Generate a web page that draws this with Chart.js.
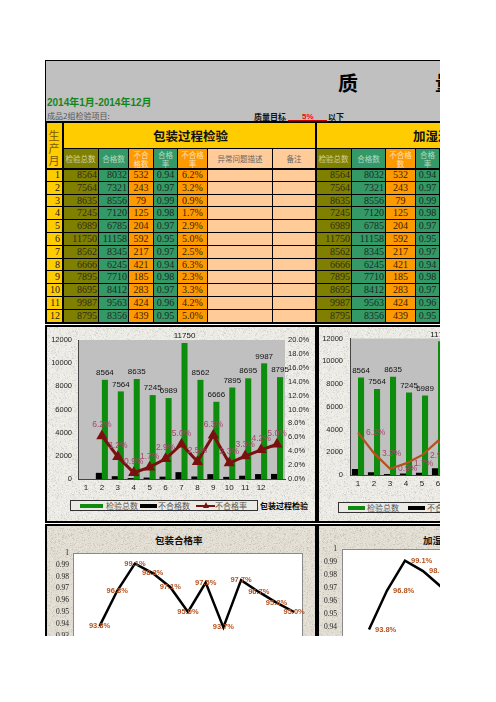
<!DOCTYPE html>
<html lang="zh">
<head>
<meta charset="utf-8">
<title>质量报表</title>
<script src="https://cdn.jsdelivr.net/npm/chart.js@4.4.1/dist/chart.umd.min.js"></script>
<style>
html,body{margin:0;padding:0;background:#fff;}
body{width:496px;height:702px;position:relative;overflow:hidden;font-family:"Liberation Serif","Noto Sans CJK SC",serif;}
#clip{position:absolute;left:45px;top:60px;width:395px;height:576px;overflow:hidden;background:#fff;}
#clip div,#clip canvas{position:absolute;box-sizing:border-box;}
</style>
</head>
<body>
<div id="clip"></div>
<script>
// ---------- data ----------
const months      = ['1','2','3','4','5','6','7','8','9','10','11','12'];
const totals      = [8564,7564,8635,7245,6989,11750,8562,6666,7895,8695,9987,8795];
const passed      = [8032,7321,8556,7120,6785,11158,8345,6245,7710,8412,9563,8356];
const failed      = [532,243,79,125,204,592,217,421,185,283,424,439];
const passRate    = [0.94,0.97,0.99,0.98,0.97,0.95,0.97,0.94,0.98,0.97,0.96,0.95];
const failRatePct = [6.2,3.2,0.9,1.7,2.9,5.0,2.5,6.3,2.3,3.3,4.2,5.0];
const passRateLine= [0.938,0.968,0.991,0.983,0.971,0.950,0.975,0.937,0.977,0.967,0.958,0.950];
const countTicks  = [0,2000,4000,6000,8000,10000,12000];
const pctTicks    = ['0.0%','2.0%','4.0%','6.0%','8.0%','10.0%','12.0%','14.0%','16.0%','18.0%','20.0%'];
const rateTicks   = ['0.9','0.91','0.92','0.93','0.94','0.95','0.96','0.97','0.98','0.99','1'];

// ---------- helpers ----------
const clip = document.getElementById('clip');
function box(x,y,w,h,css,html){
  const d=document.createElement('div');
  d.style.cssText=`left:${x-45}px;top:${y-60}px;width:${w}px;height:${h}px;${css||''}`;
  if(html!=null) d.innerHTML=html;
  clip.appendChild(d); return d;
}
function canvasAt(x,y,w,h){
  const c=document.createElement('canvas');
  c.width=w;c.height=h;c.style.cssText=`left:${x-45}px;top:${y-60}px;width:${w}px;height:${h}px;`;
  clip.appendChild(c);return c;
}
function texture(base,seed){
  const N=128,c=document.createElement('canvas');c.width=c.height=N;
  const g=c.getContext('2d'),im=g.createImageData(N,N);let s=seed>>>0;
  for(let i=0;i<N*N;i++){
    s=(Math.imul(s,1664525)+1013904223)>>>0;
    const r=(s>>>24)/255;let d=(r-0.5)*16;if(r>0.92)d-=30;
    im.data[i*4]=base[0]+d;im.data[i*4+1]=base[1]+d;im.data[i*4+2]=base[2]+d;im.data[i*4+3]=255;
  }
  g.putImageData(im,0,0);return c.toDataURL();
}
const texTop=texture([236,235,230],7), texBot=texture([226,222,212],11);

// ---------- header ----------
box(45,60,400,62,'background:#c0c0c0;border-top:1px solid #000;border-left:1px solid #000;');
box(338,70,24,26,'font:700 20px "Noto Sans CJK SC";line-height:26px;color:#000;','质');
box(435,70,24,26,'font:700 20px "Noto Sans CJK SC";line-height:26px;color:#000;','量');
box(47,96,140,14,'font:700 10px "Liberation Sans","Noto Sans CJK SC";line-height:14px;color:#13861b;white-space:nowrap;','2014年1月-2014年12月');
box(47,110,120,12,'font:8px "Noto Sans CJK SC";line-height:12px;color:#555;white-space:nowrap;','成品2组检验项目:');
box(254,111,40,12,'font:700 8px "Noto Sans CJK SC";line-height:12px;color:#111;white-space:nowrap;','质量目标');
box(302,111,14,12,'font:700 8px "Liberation Sans";line-height:12px;color:#f00;','5%');
box(288,120,39,1.5,'background:#c00;');
box(328,111,20,12,'font:700 8px "Noto Sans CJK SC";line-height:12px;color:#111;','以下');

// ---------- tables ----------
const TY=122,HY=149,DY=169,RH=12.8;
const colBg=['#808000','#339966','#ff9900','#339966','#ff9900','#ffcc99','#ffcc99'];
const colTx=['#2c2c18','#1c2c22','#3a2200','#1c2c22','#3a2200','#222','#222'];
const hdTx =['rgba(235,235,215,.75)','rgba(235,245,235,.7)','rgba(255,245,235,.8)','rgba(235,245,235,.7)','rgba(255,245,235,.8)','#666','#666'];
const align=['flex-end','flex-end','center','center','center','center','center'];
const cellB='border-right:1px solid #000;border-bottom:1px solid #000;';
function table(E,title,titleX,heads){
  box(E[0],TY,E[7]-E[0],HY-TY,'background:#ffcc00;'+cellB);
  box(titleX,TY+6,200,16,'font:700 12.5px "Noto Sans CJK SC";line-height:16px;color:#111;white-space:nowrap;',title);
  for(let c=0;c<7;c++){
    const w=E[c+1]-E[c];
    box(E[c],HY,w,DY-HY,`background:${colBg[c]};${cellB}display:flex;align-items:center;justify-content:center;text-align:center;font:7.5px/9px "Noto Sans CJK SC";color:${hdTx[c]};`,heads[c]);
    for(let r=0;r<12;r++){
      const vals=[totals[r],passed[r],failed[r],passRate[r].toFixed(2),failRatePct[r].toFixed(1)+'%','',''];
      box(E[c],DY+r*RH,w,RH,`background:${colBg[c]};${cellB}display:flex;align-items:center;justify-content:${align[c]};padding:0 1px;font:10px/12px "Liberation Serif";color:${colTx[c]};`,String(vals[c]));
    }
  }
}
// month column
box(45,TY,18,DY-TY,'background:#ffcc00;'+cellB);
box(45,129,18,38,'font:11px/12.5px "Noto Sans CJK SC";color:#7a5a00;text-align:center;','生<br>产<br>月');
for(let r=0;r<12;r++){
  box(45,DY+r*RH,18,RH,'background:#ffcc00;'+cellB+'display:flex;align-items:center;justify-content:flex-end;padding-right:2px;font:10px/12px "Liberation Serif";color:#222;',months[r]);
}
table([63,99,129,154,178,208,273,316],'包装过程检验',153,['检验总数','合格数','不合<br>格数','合格<br>率','不合格<br>率','异常问题描述','备注']);
table([316,352,386,416,440,470,535,578],'加湿过程检验',413,['检验总数','合格数','不合格<br>数','合格<br>率','不合格<br>率','异常问题描述','备注']);
// thick rules
box(45,121,400,2,'background:#000;');
box(45,168,400,2,'background:#000;');
box(45,121,2,203,'background:#000;');
box(62,121,2,203,'background:#000;');
box(315,121,2,203,'background:#000;');
box(45,322,400,2,'background:#000;');

// ---------- chart panels ----------
box(45,325,272,198,`border:2px solid #000;background:url(${texTop});`);
box(317,325,130,198,`border:2px solid #000;background:url(${texTop});`);
box(45,524,272,130,`border:2px solid #000;background:url(${texBot});`);
box(317,524,130,130,`border:2px solid #000;background:url(${texBot});`);

// legends (HTML)
function legend(x,y,w,items){
  box(x,y,w,11,'border:1px solid #333;background:#eceae4;');
  items.forEach(it=>{
    if(it.kind==='bar') box(it.sx,y+3.5,it.sw,4,`background:${it.color};`);
    else{
      box(it.sx,y+4.5,it.sw,2.5,`background:${it.color};`);
      box(it.sx+it.sw/2-3,y+2,0,0,`width:0;height:0;border-left:3px solid transparent;border-right:3px solid transparent;border-bottom:6px solid ${it.color};`);
    }
    box(it.tx,y,60,11,'font:8px/11px "Noto Sans CJK SC";color:#555;white-space:nowrap;',it.text);
  });
}
legend(70,500,188,[
  {kind:'bar',sx:80,sw:23,color:'#0e8c0e',tx:106,text:'检验总数'},
  {kind:'bar',sx:140,sw:17,color:'#000',tx:158,text:'不合格数'},
  {kind:'line',sx:196,sw:19,color:'#7a1010',tx:215,text:'不合格率'}
]);
box(260,500,60,11,'font:700 8px/11px "Noto Sans CJK SC";color:#000;white-space:nowrap;','包装过程检验');
legend(338,502,140,[
  {kind:'bar',sx:348,sw:17,color:'#0e8c0e',tx:367,text:'检验总数'},
  {kind:'bar',sx:408,sw:17,color:'#000',tx:427,text:'不合格数'}
]);
box(155,533,60,15,'font:700 9.5px/15px "Noto Sans CJK SC";color:#111;white-space:nowrap;','包装合格率');
box(423,533,60,15,'font:700 9.5px/15px "Noto Sans CJK SC";color:#111;white-space:nowrap;','加湿合格率');

// ---------- Chart.js plugins ----------
const plotBg={id:'plotBg',beforeDraw(chart,args,o){
  const a=chart.chartArea,ctx=chart.ctx;ctx.save();
  ctx.fillStyle=o.color;ctx.fillRect(a.left,a.top,a.right-a.left,a.bottom-a.top);
  if(o.stroke){ctx.strokeStyle=o.stroke;ctx.lineWidth=1;ctx.strokeRect(a.left+0.5,a.top+0.5,a.right-a.left-1,a.bottom-a.top-1);}
  ctx.restore();
}};
const valueLabels={id:'valueLabels',afterDatasetsDraw(chart){
  const ctx=chart.ctx;
  chart.data.datasets.forEach((ds,i)=>{
    const L=ds.lbl;if(!L)return;
    chart.getDatasetMeta(i).data.forEach((el,j)=>{
      const v=ds.data[j];if(v==null)return;
      ctx.save();ctx.font=L.font;ctx.fillStyle=L.color;ctx.textAlign=L.align||'center';ctx.textBaseline='middle';
      ctx.fillText(L.fmt(v),el.x+(L.dx||0),el.y+(L.dy||0));ctx.restore();
    });
  });
}};
Chart.register(plotBg,valueLabels);

const lead=a=>[null].concat(a);
const slotLabels=months.concat(['']);
const axFont=(s,f)=>({family:f||'Liberation Sans',size:s});
const noGrid={display:false,drawTicks:false,tickLength:0};

function comboChart(cv,o){
  return new Chart(cv,{
    type:'bar',
    data:{labels:o.labels,datasets:[
      {type:'line',label:'不合格率',data:o.rate,yAxisID:'y1',borderColor:o.lineColor,backgroundColor:o.lineColor,
       borderWidth:o.lineWidth,pointStyle:'triangle',pointRadius:o.pointRadius,order:0,
       lbl:{font:'8.5px "Liberation Sans"',color:'#a4486a',dx:o.rdx,dy:o.rdy,align:o.ralign,fmt:v=>v.toFixed(1)+'%'}},
      {label:'检验总数',data:o.totals,backgroundColor:'#0e8c0e',yAxisID:'y',order:2,barPercentage:1,categoryPercentage:0.76,
       lbl:{font:'8px "Liberation Sans"',color:'#111',dy:-7,fmt:v=>String(v)}},
      {label:'不合格数',data:o.failed,backgroundColor:'#000',yAxisID:'y',order:1,barPercentage:1,categoryPercentage:0.76}
    ]},
    options:{responsive:false,animation:false,devicePixelRatio:1,
      layout:{padding:{top:o.top,left:0,right:0,bottom:0}},
      plugins:{legend:{display:false},tooltip:{enabled:false},plotBg:{color:'#c0c0c0'}},
      scales:{
        x:{grid:noGrid,border:{display:true,color:'#444'},
           ticks:{color:'#222',font:axFont(8),padding:4,maxRotation:0,autoSkip:false},
           afterFit(s){s.height=o.xh;}},
        y:{position:'left',min:0,max:12000,grid:noGrid,border:{display:true,color:'#444'},
           afterBuildTicks(s){s.ticks=countTicks.map(v=>({value:v}));},
           ticks:{color:'#222',font:axFont(7.5),padding:o.ypad,autoSkip:false,callback:v=>String(v)},
           afterFit(s){s.width=o.yw;}},
        y1:{position:'right',min:0,max:20,grid:noGrid,border:{display:false},
           afterBuildTicks(s){s.ticks=pctTicks.map(t=>({value:parseFloat(t)}));},
           ticks:{color:'#222',font:axFont(7.5),padding:3,autoSkip:false,callback:(v,i)=>pctTicks[i]},
           afterFit(s){s.width=o.y1w;}}
      }}
  });
}
comboChart(canvasAt(47,327,267,194),{labels:slotLabels,totals:lead(totals),failed:lead(failed),rate:lead(failRatePct),
  lineColor:'#7a1010',lineWidth:3,pointRadius:3.5,rdx:0,rdy:-11,ralign:'center',top:13,xh:42,yw:31,y1w:29,ypad:6});
comboChart(canvasAt(319,327,269,194),{labels:months,totals:totals,failed:failed,rate:failRatePct,
  lineColor:'#b4521e',lineWidth:2.2,pointRadius:0,rdx:8,rdy:0,ralign:'left',top:11,xh:46,yw:31,y1w:46,ypad:7});

function rateChart(cv,o){
  return new Chart(cv,{
    type:'line',
    data:{labels:slotLabels,datasets:[{label:'合格率',data:lead(passRateLine),borderColor:'#000',borderWidth:2.5,pointRadius:0,tension:0,
      lbl:{font:'bold 7.5px "Liberation Sans"',color:'#b4521e',dx:o.dx,dy:0,align:o.align,fmt:v=>(v*100).toFixed(1)+'%'}}]},
    options:{responsive:false,animation:false,devicePixelRatio:1,
      layout:{padding:{top:o.top,left:0,right:o.right,bottom:0}},
      plugins:{legend:{display:false},tooltip:{enabled:false},plotBg:{color:'#fff',stroke:'#8a8a8a'}},
      scales:{
        x:{offset:true,grid:noGrid,border:{display:false},ticks:{color:'#222',font:axFont(8),padding:4,maxRotation:0,autoSkip:false},
           afterFit(s){s.height=o.xh;}},
        y:{min:0.9,max:1,grid:noGrid,border:{display:false},
           afterBuildTicks(s){s.ticks=rateTicks.map(t=>({value:parseFloat(t)}));},
           ticks:{color:'#222',font:axFont(7.5,'Liberation Serif'),padding:o.ypad,autoSkip:false,callback:(v,i)=>rateTicks[i]},
           afterFit(s){s.width=o.yw;}}
      }}
  });
}
rateChart(canvasAt(47,526,267,170),{top:27,right:11,xh:25,yw:26,ypad:4,dx:0,align:'center'});
rateChart(canvasAt(319,526,269,170),{top:23,right:12,xh:17,yw:23,ypad:5,dx:6,align:'left'});
</script>
</body>
</html>
